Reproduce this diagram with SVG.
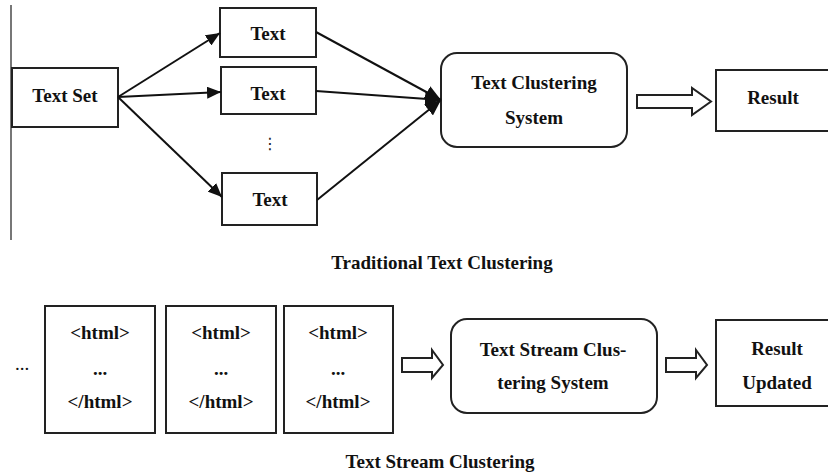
<svg xmlns="http://www.w3.org/2000/svg" width="828" height="475" viewBox="0 0 828 475">
<style>
text{font-family:"Liberation Serif","Times New Roman",serif;font-weight:bold;font-size:19px;fill:#111;text-anchor:middle}
.box{fill:#fff;stroke:#222;stroke-width:2}
.ln{stroke:#111;stroke-width:2;fill:none}
.hol{fill:#fff;stroke:#222;stroke-width:2;stroke-linejoin:miter}
.reg{font-weight:normal}
</style>
<defs>
<marker id="ah2" markerWidth="14" markerHeight="12" refX="14" refY="6" orient="auto" markerUnits="userSpaceOnUse" viewBox="0 0 14 12">
<path d="M0,0 L14,6 L0,12 Z" fill="#111"/>
</marker>
<marker id="ah3" markerWidth="16" markerHeight="14" refX="16" refY="7" orient="auto" markerUnits="userSpaceOnUse" viewBox="0 0 16 14">
<path d="M0,0 L16,7 L0,14 Z" fill="#111"/>
</marker>
</defs>
<line x1="11" y1="5" x2="11" y2="240" stroke="#777" stroke-width="2"/>
<g id="textset"><rect class="box" x="12" y="68" width="106" height="59"/><text x="65" y="102">Text Set</text></g>
<g id="text1"><rect class="box" x="220" y="8" width="96" height="49"/><text x="268" y="40">Text</text></g>
<g id="text2"><rect class="box" x="221" y="67" width="95" height="47"/><text x="268" y="100">Text</text></g>
<g id="vdots"><text class="reg" x="270" y="149" style="font-family:'DejaVu Sans',sans-serif;font-size:16px;fill:#222">⋮</text></g>
<g id="text3"><rect class="box" x="222" y="173" width="95" height="52"/><text x="270" y="206">Text</text></g>
<g id="tcs"><rect class="box" x="441" y="53" width="186" height="94" rx="16"/><text x="534" y="89">Text Clustering</text><text x="534" y="124">System</text></g>
<g id="result1"><rect class="box" x="716" y="70" width="120" height="61"/><text x="773" y="104">Result</text></g>
<text x="442" y="269">Traditional Text Clustering</text>
<text class="reg" x="22" y="370">...</text>
<g id="html1"><rect class="box" x="45" y="306" width="110" height="127"/><text x="100" y="339">&lt;html&gt;</text><text x="100" y="375">...</text><text x="100" y="408">&lt;/html&gt;</text></g>
<g id="html2"><rect class="box" x="166" y="306" width="110" height="127"/><text x="221" y="339">&lt;html&gt;</text><text x="221" y="375">...</text><text x="221" y="408">&lt;/html&gt;</text></g>
<g id="html3"><rect class="box" x="284" y="306" width="109" height="127"/><text x="338" y="339">&lt;html&gt;</text><text x="338" y="375">...</text><text x="338" y="408">&lt;/html&gt;</text></g>
<g id="tscs"><rect class="box" x="451" y="319" width="206" height="94" rx="16"/><text x="553" y="356">Text Stream Clus-</text><text x="553" y="389">tering System</text></g>
<g id="result2"><rect class="box" x="716" y="320" width="120" height="86"/><text x="777" y="355">Result</text><text x="777" y="389">Updated</text></g>
<text x="440" y="468">Text Stream Clustering</text>
<g id="connectors">
<line class="ln" x1="118" y1="97" x2="220" y2="33" marker-end="url(#ah2)"/>
<line class="ln" x1="118" y1="97" x2="221" y2="92" marker-end="url(#ah2)"/>
<line class="ln" x1="118" y1="97" x2="222" y2="197" marker-end="url(#ah2)"/>
<line class="ln" x1="316" y1="32" x2="441" y2="100" marker-end="url(#ah3)"/>
<line class="ln" x1="316" y1="91" x2="441" y2="100" marker-end="url(#ah3)"/>
<line class="ln" x1="317" y1="200" x2="441" y2="100" marker-end="url(#ah3)"/>
<path class="hol" d="M637,95 L692,95 L692,88 L711,101.5 L692,115 L692,108 L637,108 Z"/>
<path class="hol" d="M402,358 L432,358 L432,350 L443,365 L432,378 L432,372 L402,372 Z"/>
<path class="hol" d="M666,358 L696,358 L696,350 L707,365 L696,378 L696,372 L666,372 Z"/>
</g>
</svg>
